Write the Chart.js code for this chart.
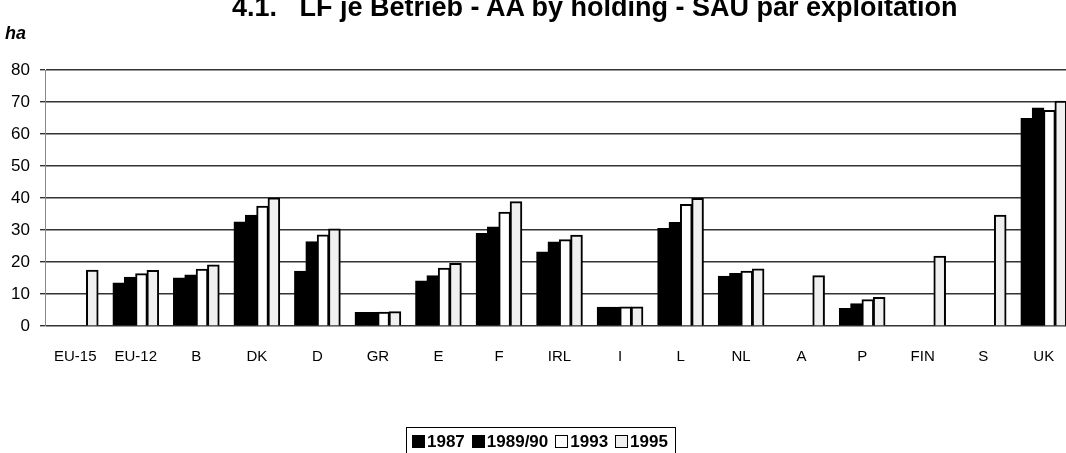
<!DOCTYPE html>
<html>
<head>
<meta charset="utf-8">
<script src="https://cdn.jsdelivr.net/npm/chart.js@4/dist/chart.umd.min.js"></script>
<style>
  html, body { margin: 0; padding: 0; background: #fff; overflow: hidden; }
  body { width: 1066px; height: 453px; position: relative; font-family: Arial, "Liberation Sans", sans-serif; }
  #wrap { position: absolute; left: 0; top: 0; width: 1080px; height: 453px; }
  #title { position: absolute; left: 232px; top: -6px; font-size: 27px; font-weight: bold; line-height: 27px; white-space: pre; color: #000; }
  #unit { position: absolute; left: 5px; top: 23px; font-size: 18px; font-weight: bold; font-style: italic; color: #000; }
  #legend { position: absolute; left: 406px; top: 427px; width: 270px; height: 40px; border: 1px solid #000; border-bottom: none; font-size: 17px; font-weight: bold; white-space: nowrap; padding-left: 5px; box-sizing: border-box; }
  #legend span.item { display: inline-block; margin-right: 7px; line-height: 27px; }
  #legend span.box { display: inline-block; width: 11px; height: 11px; border: 1px solid #000; margin-right: 2px; vertical-align: -0.5px; }
</style>
</head>
<body>
<div id="wrap"><canvas id="myChart" width="1080" height="453"></canvas></div>
<div id="title">4.1.   LF je Betrieb - AA by holding - SAU par exploitation</div>
<div id="unit">ha</div>
<div id="legend"></div>
<script>
// valores (ha por explotacion)
const paises = ["EU-15", "EU-12", "B", "DK", "D", "GR", "E", "F", "IRL", "I", "L", "NL", "A", "P", "FIN", "S", "UK"];
const anios = ["1987", "1989/90", "1993", "1995"];
const v1987 = [null, 13.4, 15.0, 32.5, 17.1, 4.2, 14.0, 28.9, 23.1, 5.8, 30.4, 15.5, null, 5.4, null, null, 64.8];
const v1989 = [null, 15.2, 15.9, 34.6, 26.3, 4.2, 15.7, 30.9, 26.2, 5.8, 32.3, 16.4, null, 6.9, null, null, 68.1];
const v1993 = [null, 16.3, 17.7, 37.4, 28.4, 4.3, 18.0, 35.5, 26.9, 5.9, 37.9, 17.1, null, 8.2, null, null, 67.3];
const v1995 = [17.4, 17.3, 19.0, 40.0, 30.3, 4.4, 19.5, 38.8, 28.3, 5.9, 39.8, 17.8, 15.7, 8.9, 21.8, 34.6, 70.2];
const ticksY = [0, 10, 20, 30, 40, 50, 60, 70, 80];

const rellenos = ["#000000", "#000000", "#ffffff", "#f0f0f0"];
const series = [v1987, v1989, v1993, v1995];

// leyenda en html
const leyenda = document.getElementById("legend");
anios.forEach((a, i) => {
  const it = document.createElement("span");
  it.className = "item";
  const b = document.createElement("span");
  b.className = "box";
  b.style.background = rellenos[i];
  it.appendChild(b);
  it.appendChild(document.createTextNode(a));
  leyenda.appendChild(it);
});

const ctx = document.querySelector("#myChart").getContext("2d");
new Chart(ctx, {
  type: "bar",
  data: {
    labels: paises,
    datasets: anios.map((a, i) => ({
      label: a,
      data: series[i],
      backgroundColor: rellenos[i],
      borderColor: "#000",
      borderWidth: 2,
      inflateAmount: 0.6,
      barPercentage: 1,
      categoryPercentage: 0.75,
    })),
  },
  options: {
    responsive: false,
    animation: false,
    layout: { padding: { top: 70, right: 6, left: 0, bottom: 0 } },
    plugins: { legend: { display: false }, tooltip: { enabled: false } },
    scales: {
      x: {
        grid: { display: false },
        border: { display: false },
        ticks: { color: "#000", font: { family: "Arial", size: 15 }, padding: 14, maxRotation: 0, autoSkip: false },
        afterFit: (s) => { s.height = 127; },
      },
      y: {
        min: 0,
        max: 80,
        afterBuildTicks: (s) => { s.ticks = ticksY.map((v) => ({ value: v })); },
        grid: { color: "#333", lineWidth: 1.4, tickLength: 5 },
        border: { display: true, color: "#888", width: 1 },
        ticks: { color: "#000", font: { family: "Arial", size: 17 }, padding: 10 },
        afterFit: (s) => { s.width = 45; },
      },
    },
  },
});
</script>
</body>
</html>
